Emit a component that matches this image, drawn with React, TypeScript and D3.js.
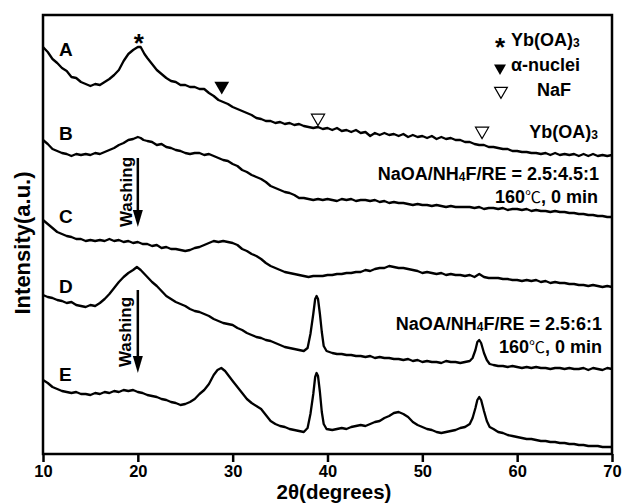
import React, { useEffect, useRef } from "react";
import * as d3 from "d3";

type P = [number, number];

const sampleLabels = ["A", "B", "C", "D", "E"];

const patternA: P[] = [[10,407],[10.5,402],[11,395],[11.5,391],[12,386],[12.5,383],[13,377],[13.5,376],[14,372],[14.5,370],[15,368],[15.5,370],[16,369],[16.5,372],[17,375],[17.5,379],[18,384],[18.5,393],[19,400],[19.5,404],[20,407],[20.3,407],[20.7,400],[21,396],[21.5,390],[22,384],[22.5,380],[23,376],[23.5,373],[24,372],[24.5,369],[25,369],[25.5,367],[26,367],[26.5,365],[27,365],[27.5,361],[28,358],[28.5,354],[29,352],[29.5,350],[30,347],[30.5,345],[31,343],[31.5,341],[32,339],[32.5,336],[33,335],[33.5,333],[34,333],[34.5,331],[35,332],[35.5,330],[36,331],[36.5,329],[37,330],[37.5,328],[38,327],[38.5,326],[39,327],[39.5,325],[40,326],[40.5,324],[41,326],[41.5,323],[42,324],[42.5,322],[43,324],[43.5,321],[44,322],[44.5,318],[45,321],[45.5,319],[46,321],[46.5,319],[47,320],[47.5,318],[48,320],[48.5,317],[49,319],[49.5,317],[50,318],[50.5,316],[51,318],[51.5,315],[52,317],[52.5,315],[53,316],[53.5,314],[54,314],[54.5,312],[55,312],[55.5,310],[56,309],[56.5,309],[57,307],[57.5,307],[58,306],[58.5,305],[59,305],[59.5,303],[60,303],[60.5,302],[61,302],[61.5,301],[62,301],[62.5,300],[63,301],[63.5,299],[64,301],[64.5,299],[65,300],[65.5,299],[66,300],[66.5,298],[67,300],[67.5,298],[68,300],[68.5,298],[69,299],[69.5,298],[70,299]];

const patternB: P[] = [[10,314],[10.5,310],[11,305],[11.5,303],[12,301],[12.5,300],[13,298],[13.5,300],[14,299],[14.5,300],[15,299],[15.5,301],[16,300],[16.5,302],[17,304],[17.5,306],[18,309],[18.5,311],[19,314],[19.5,315],[20,317],[20.3,316],[20.6,314],[21,313],[21.5,312],[22,309],[22.5,310],[23,307],[23.5,306],[24,304],[24.5,303],[25,301],[25.5,300],[26,301],[26.5,301],[27,299],[27.5,300],[28,298],[28.5,296],[29,294],[29.5,293],[30,290],[30.5,288],[31,284],[31.5,282],[32,279],[32.5,277],[33,275],[33.5,272],[34,268],[34.5,266],[35,264],[35.5,262],[36,261],[36.5,259],[37,256],[37.5,256],[38,255],[38.5,254],[39,255],[39.5,254],[40,255],[40.5,254],[41,253],[41.5,255],[42,254],[42.5,255],[43,253],[43.5,254],[44,254],[44.5,253],[45,254],[45.5,252],[46,253],[46.5,251],[47,252],[47.5,251],[48,251],[48.5,250],[49,249],[49.5,250],[50,249],[50.5,249],[51,248],[51.5,249],[52,248],[52.5,247],[53,248],[53.5,247],[54,247],[54.5,247],[55,247],[55.5,246],[56,247],[56.5,245],[57,246],[57.5,246],[58,245],[58.5,246],[59,244],[59.5,245],[60,245],[60.5,244],[61,245],[61.5,243],[62,244],[62.5,243],[63,243],[63.5,242],[64,243],[64.5,242],[65,242],[65.5,241],[66,241],[66.5,240],[67,240],[67.5,239],[68,239],[68.5,238],[69,238],[69.5,237],[70,237]];

const patternC: P[] = [[10,234],[10.5,230],[11,226],[11.5,222],[12,220],[12.5,218],[13,217],[13.5,215],[14,215],[14.5,213],[15,214],[15.5,213],[16,214],[16.5,213],[17,215],[17.5,213],[18,214],[18.5,212],[19,213],[19.5,211],[20,212],[20.5,210],[21,210],[21.5,208],[22,209],[22.5,206],[23,207],[23.5,205],[24,205],[24.5,204],[25,203],[25.5,204],[26,206],[26.5,207],[27,209],[27.5,211],[28,213],[28.5,212],[29,213],[29.5,212],[30,211],[30.5,209],[31,205],[31.5,203],[32,200],[32.5,198],[33,195],[33.5,191],[34,188],[34.5,186],[35,184],[35.5,182],[36,181],[36.5,180],[37,179],[37.5,178],[38,177],[38.5,178],[39,178],[39.5,178],[40,179],[40.5,179],[41,180],[41.5,180],[42,181],[42.5,181],[43,182],[43.5,182],[44,184],[44.5,183],[45,185],[45.5,186],[46,186],[46.5,188],[47,187],[47.5,186],[48,186],[48.5,185],[49,184],[49.5,183],[50,181],[50.5,182],[51,181],[51.5,180],[52,181],[52.5,179],[53,180],[53.5,179],[54,179],[54.5,178],[55,179],[55.5,177],[56,180],[56.5,177],[57,176],[57.5,176],[58,176],[58.5,175],[59,175],[59.5,174],[60,174],[60.5,173],[61,174],[61.5,173],[62,174],[62.5,172],[63,173],[63.5,171],[64,172],[64.5,171],[65,171],[65.5,170],[66,170],[66.5,169],[67,169],[67.5,168],[68,169],[68.5,168],[69,167],[69.5,168],[70,167]];

const patternD: P[] = [[10,159],[10.5,157],[11,156],[11.5,154],[12,153],[12.5,151],[13,152],[13.5,149],[14,148],[14.5,147],[15,149],[15.5,148],[16,151],[16.5,155],[17,160],[17.5,166],[18,172],[18.5,177],[19,181],[19.5,184],[19.9,187],[20.3,184],[20.8,179],[21,177],[21.5,172],[22,168],[22.5,163],[23,158],[23.5,155],[24,152],[24.5,150],[25,148],[25.5,145],[26,143],[26.5,142],[27,140],[27.5,138],[28,135],[28.5,133],[29,131],[29.5,130],[30,129],[30.5,126],[31,124],[31.5,121],[32,119],[32.5,117],[33,116],[33.5,114],[34,113],[34.5,111],[35,109],[35.5,107],[36,106],[36.5,105],[37,104],[37.5,103],[37.9,106],[38.2,120],[38.5,140],[38.7,155],[38.85,158],[39,155],[39.2,140],[39.4,122],[39.6,108],[39.9,103],[40.5,101],[41,100],[41.5,100],[42,99],[42.5,99],[43,98],[43.5,98],[44,97],[44.5,98],[45,96],[45.5,97],[46,96],[46.5,96],[47,95],[47.5,95],[48,94],[48.5,95],[49,93],[49.5,94],[50,92],[50.5,93],[51,92],[51.5,92],[52,91],[52.5,93],[53,92],[53.5,92],[54,91],[54.5,92],[55,93],[55.3,96],[55.6,104],[55.8,112],[56,114],[56.2,111],[56.5,101],[56.8,94],[57.1,90],[57.5,89],[58,88],[58.5,88],[59,87],[59.5,88],[60,87],[60.5,86],[61,87],[61.5,86],[62,87],[62.5,86],[63,86],[63.5,85],[64,86],[64.5,86],[65,85],[65.5,86],[66,85],[66.5,85],[67,86],[67.5,84],[68,86],[68.5,85],[69,84],[69.5,86],[70,85]];

const patternE: P[] = [[10,74],[10.5,71],[11,67],[11.5,65],[12,63],[12.5,62],[13,61],[13.5,62],[14,60],[14.5,60],[15,59],[15.5,61],[16,60],[16.5,62],[17,61],[17.5,63],[18,62],[18.5,64],[19,63],[19.5,64],[20,62],[20.5,61],[21,59],[21.5,58],[22,57],[22.5,55],[23,54],[23.5,52],[24,51],[24.5,49],[25,50],[25.5,52],[26,55],[26.5,60],[27,64],[27.5,70],[28,79],[28.4,84],[28.8,86],[29.2,83],[29.6,78],[30,73],[30.5,67],[31,61],[31.5,55],[32,51],[32.5,48],[33,45],[33.5,39],[34,33],[34.5,30],[35,28],[35.5,27],[36,25],[36.5,24],[37,23],[37.5,22],[37.9,26],[38.2,40],[38.5,60],[38.7,77],[38.85,81],[39,78],[39.2,62],[39.4,42],[39.6,30],[39.9,25],[40.5,24],[41,25],[41.5,26],[42,25],[42.5,27],[43,28],[43.5,29],[44,28],[44.5,30],[45,32],[45.5,33],[46,36],[46.5,38],[47,41],[47.5,42],[48,40],[48.5,37],[49,32],[49.5,29],[50,27],[50.5,25],[51,24],[51.5,22],[52,21],[52.5,22],[53,23],[53.5,24],[54,26],[54.5,27],[55,30],[55.3,36],[55.6,46],[55.8,54],[56,57],[56.2,54],[56.5,43],[56.8,33],[57.1,27],[57.5,25],[58,22],[58.5,21],[59,19],[59.5,18],[60,17],[60.5,16],[61,15],[61.5,15],[62,14],[62.5,13],[63,13],[63.5,12],[64,12],[64.5,11],[65,11],[65.5,10],[66,10],[66.5,9],[67,9],[67.5,8],[68,8],[68.5,8],[69,7],[69.5,7],[70,7]];

const patterns: P[][] = [patternA, patternB, patternC, patternD, patternE];

const xTicks = [10, 20, 30, 40, 50, 60, 70];
const xTitle = "2θ(degrees)";
const yTitle = "Intensity(a.u.)";

// reflection markers: [2θ, intensity] where the symbol sits
const ybOaMarks: P[] = [[20.1, 417]];
const alphaMarks: P[] = [[28.85, 368]];
const nafMarks: P[] = [[39.0, 336], [56.3, 323]];

const washingArrowX = 20;

const FONT = "'Liberation Sans', Arial, Helvetica, sans-serif";
const CJK = "'Noto Sans CJK SC', sans-serif";

export default function App() {
  const W = 622, H = 503;
  const L = 43, R = 612, T = 15, B = 454;
  const x = d3.scaleLinear().domain([10, 70]).range([L, R]);
  const y = d3.scaleLinear().domain([0, 439]).range([B, T]);
  const line = d3.line<P>().x((d) => x(d[0])).y((d) => y(d[1]));
  const axisRef = useRef<SVGGElement>(null);

  useEffect(() => {
    const g = d3.select(axisRef.current as SVGGElement);
    g.call(
      d3.axisBottom(x).tickValues(xTicks).tickSize(8).tickSizeOuter(0).tickPadding(3).tickFormat(d3.format("d"))
    );
    g.select(".domain").remove();
    g.selectAll(".tick line").attr("stroke", "#000").attr("stroke-width", 2.5);
    g.selectAll(".tick text")
      .attr("fill", "#000")
      .style("font-family", FONT)
      .style("font-size", "16.5px")
      .style("font-weight", "bold");
  }, []);

  const triDown = (size: number) => d3.symbol().type(d3.symbolTriangle).size(size)() as string;
  const labelY = [56, 140, 223, 293, 381];
  const ax = x(washingArrowX);

  const arrow = (y0: number, y1: number) => (
    <g>
      <line x1={ax} x2={ax} y1={y0} y2={y1 - 14} stroke="#000" strokeWidth={2.5} />
      <path d={`M${ax - 5},${y1 - 17}L${ax + 5},${y1 - 17}L${ax},${y1}Z`} fill="#000" />
    </g>
  );

  const celsius = (xx: number, yy: number) => (
    <text x={xx} y={yy} fontSize={18} textAnchor="end">
      160<tspan fontFamily={CJK} fontWeight="normal" fontSize={16}>℃</tspan>, 0 min
    </text>
  );

  return (
    <svg width={W} height={H} style={{ position: "absolute", left: 0, top: 0, background: "#fff" }} fontFamily={FONT} fontWeight="bold">
      <rect x={0} y={0} width={W} height={H} fill="#fff" />
      {patterns.map((p, i) => (
        <path key={i} d={line(p) as string} fill="none" stroke="#000" strokeWidth={2.3} strokeLinejoin="round" />
      ))}
      <rect x={L} y={T} width={R - L} height={B - T} fill="none" stroke="#000" strokeWidth={2.5} />
      <g ref={axisRef} transform={`translate(0,${B})`} />
      {sampleLabels.map((s, i) => (
        <text key={s} x={59} y={labelY[i]} fontSize={19}>{s}</text>
      ))}
      {ybOaMarks.map((d, i) => (
        <text key={"s" + i} x={x(d[0])} y={y(d[1]) + 15} fontSize={26} textAnchor="middle">*</text>
      ))}
      {alphaMarks.map((d, i) => (
        <path key={"a" + i} d={triDown(95)} transform={`translate(${x(d[0])},${y(d[1])}) rotate(180)`} fill="#000" />
      ))}
      {nafMarks.map((d, i) => (
        <path key={"n" + i} d={triDown(75)} transform={`translate(${x(d[0])},${y(d[1])}) rotate(180)`} fill="#fff" stroke="#000" strokeWidth={1.2} />
      ))}
      <text x={500} y={56} fontSize={26} textAnchor="middle">*</text>
      <text x={511} y={46} fontSize={18}>Yb(OA)<tspan fontSize={12} dy={1}>3</tspan></text>
      <path d={triDown(62)} transform="translate(500,68) rotate(180)" fill="#000" />
      <text x={511} y={71} fontSize={18}>α-nuclei</text>
      <path d={triDown(70)} transform="translate(501,91) rotate(180)" fill="#fff" stroke="#000" strokeWidth={1.2} />
      <text x={537} y={96} fontSize={18}>NaF</text>
      <text x={598} y={138} fontSize={18} textAnchor="end">Yb(OA)<tspan fontSize={12} dy={1}>3</tspan></text>
      <text x={599} y={180} fontSize={18} textAnchor="end">NaOA/NH<tspan fontSize={12} dy={1}>4</tspan><tspan dy={-1}>F/RE = 2.5:4.5:1</tspan></text>
      {celsius(598, 203)}
      <text x={602} y={330} fontSize={18} textAnchor="end">NaOA/NH<tspan fontSize={12} dy={1}>4</tspan><tspan dy={-1}>F/RE = 2.5:6:1</tspan></text>
      {celsius(602, 353)}
      {arrow(158, 227)}
      <text transform={`translate(132,192) rotate(-90)`} fontSize={17} textAnchor="middle">Washing</text>
      {arrow(290, 373)}
      <text transform={`translate(131,332) rotate(-90)`} fontSize={17} textAnchor="middle">Washing</text>
      <text x={334} y={498.5} fontSize={20.5} textAnchor="middle">{xTitle}</text>
      <text transform={`translate(30,243) rotate(-90)`} fontSize={22} textAnchor="middle">{yTitle}</text>
    </svg>
  );
}
